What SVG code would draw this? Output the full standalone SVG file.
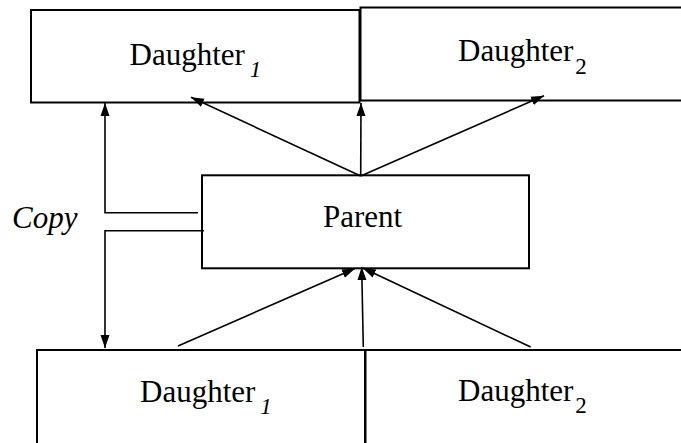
<svg xmlns="http://www.w3.org/2000/svg" width="681" height="443" viewBox="0 0 681 443">
<style>
.box{fill:#fff;stroke:#000;stroke-width:2}
.t{font-family:'Liberation Serif','Times New Roman',Times,serif;font-size:31px;fill:#000}
.s{font-size:23px}
.i{font-style:italic}
.c{fill:none;stroke:#000;stroke-width:1.6}
</style>
<defs>
<marker id="ah" markerUnits="userSpaceOnUse" markerWidth="14" markerHeight="10" refX="13" refY="5" orient="auto">
<path d="M0,0.5 L13,5 L0,9.5 Z" fill="#000"/>
</marker>
</defs>
<rect width="681" height="443" fill="#fff"/>
<g id="top-daughter1">
<rect class="box" x="31" y="10" width="328.5" height="92.5"/>
<text class="t" font-family="Liberation Serif, serif" x="129.5" y="65">Daughter<tspan class="s i" dx="5" dy="12">1</tspan></text>
</g>
<g id="top-daughter2">
<rect class="box" x="360.5" y="7.5" width="330" height="93"/>
<text class="t" font-family="Liberation Serif, serif" x="458" y="61">Daughter<tspan class="s" dx="2" dy="13">2</tspan></text>
</g>
<g id="parent">
<rect class="box" x="202" y="175.3" width="327" height="93"/>
<text class="t" font-family="Liberation Serif, serif" x="323" y="226.7">Parent</text>
</g>
<g id="bottom-daughter1">
<rect class="box" x="37" y="350" width="328" height="100"/>
<text class="t" font-family="Liberation Serif, serif" x="140" y="402">Daughter<tspan class="s i" dx="5" dy="12">1</tspan></text>
</g>
<g id="bottom-daughter2">
<rect class="box" x="365.5" y="350" width="330" height="100"/>
<text class="t" font-family="Liberation Serif, serif" x="458" y="401">Daughter<tspan class="s" dx="2" dy="12">2</tspan></text>
</g>
<g id="copy-label">
<text class="t i" font-family="Liberation Serif, serif" x="12" y="228">Copy</text>
</g>
<g id="connectors">
<polyline class="c" points="198,212.7 105,212.7 105,103" marker-end="url(#ah)"/>
<polyline class="c" points="204,230.7 105,230.7 105,348" marker-end="url(#ah)"/>
<line class="c" x1="360.7" y1="176" x2="191" y2="97.3" marker-end="url(#ah)"/>
<line class="c" x1="360.7" y1="176" x2="361" y2="103" marker-end="url(#ah)"/>
<line class="c" x1="360.7" y1="176" x2="544" y2="95.7" marker-end="url(#ah)"/>
<line class="c" x1="178" y1="346" x2="355" y2="268.5" marker-end="url(#ah)"/>
<line class="c" x1="363.3" y1="347" x2="361.7" y2="267" marker-end="url(#ah)"/>
<line class="c" x1="530.7" y1="347" x2="362.7" y2="268" marker-end="url(#ah)"/>
</g>
</svg>
